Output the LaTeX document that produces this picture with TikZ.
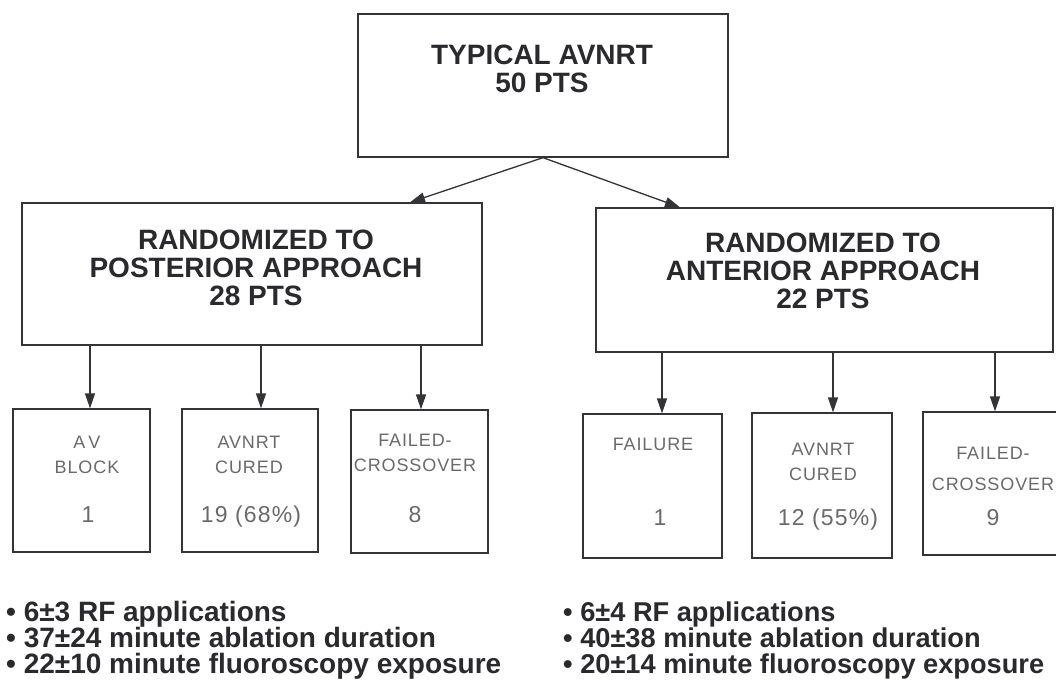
\documentclass[tikz,border=0pt]{standalone}
\usepackage{fontspec}
\setmainfont{Liberation Sans}
\newfontfamily\strokefont[LetterSpace=5]{Liberation Sans}
\usetikzlibrary{arrows.meta}
\definecolor{ink}{HTML}{2A2A2E}
\definecolor{linec}{HTML}{333338}
\definecolor{thin}{HTML}{6A6A6A}
\tikzset{
  box/.style={draw=linec, line width=1.3pt, inner sep=0pt, fill=none},
  hdr/.style={font=\bfseries\fontsize{28}{28}\selectfont, text=ink, align=center, inner sep=0pt},
  small/.style={font=\strokefont\fontsize{18}{25}\selectfont, text=thin, align=center, inner sep=0pt},
  num/.style={font=\strokefont\fontsize{23}{23}\selectfont, text=thin, inner sep=0pt},
  bul/.style={font=\bfseries\fontsize{28}{28}\selectfont, text=ink, inner sep=0pt, anchor=base west},
  bulr/.style={bul, font=\bfseries\fontsize{27.2}{27.2}\selectfont},
  arr/.style={draw=linec, line width=1.3pt, -{Triangle[length=15pt,width=10pt]}}
}
\begin{document}
\begin{tikzpicture}[x=1pt,y=-1pt]
\useasboundingbox[fill=white] (0,0) rectangle (1056,689);
\clip (0,0) rectangle (1056,689);
% top box
\node[box, minimum width=370pt, minimum height=143pt] (top) at (543,85.5) {};
\node[hdr, anchor=north] (toptxt) at (542,45) {TYPICAL AVNRT\\50 PTS};
% middle boxes
\node[box, minimum width=460pt, minimum height=142pt] (lmid) at (252,274) {};
\node[hdr, anchor=north] (lmidtxt) at (256,230) {RANDOMIZED TO\\POSTERIOR APPROACH\\28 PTS};
\node[box, minimum width=457pt, minimum height=144pt] (rmid) at (824.5,280) {};
\node[hdr, anchor=north] (rmidtxt) at (823,233) {RANDOMIZED TO\\ANTERIOR APPROACH\\22 PTS};
% small boxes left
\node[box, minimum width=137pt, minimum height=143pt] (b1) at (81.5,480.5) {};
\node[box, minimum width=136pt, minimum height=143pt] (b2) at (250,480.5) {};
\node[box, minimum width=137pt, minimum height=143pt] (b3) at (419.5,481.5) {};
% small boxes right
\node[box, minimum width=139pt, minimum height=144pt] (b4) at (652.5,486) {};
\node[box, minimum width=140pt, minimum height=145pt] (b5) at (822,485.5) {};
\node[box, minimum width=140pt, minimum height=143pt] (b6) at (993,483.5) {};
% small box texts
\node[small, anchor=north] (t1) at (87,436) {A\,V\\BLOCK};
\node[num, anchor=base] (n1) at (88,522) {1};
\node[small, anchor=north] (t2) at (249,436) {AVNRT\\CURED};
\node[num, anchor=base] (n2) at (251,522) {19 (68\%)};
\node[small, anchor=north] (t3) at (415,434) {FAILED-\\CROSSOVER};
\node[num, anchor=base] (n3) at (415,522) {8};
\node[small, anchor=north] (t4) at (653,438) {FAILURE};
\node[num, anchor=base] (n4) at (660,525) {1};
\node[small, anchor=north] (t5) at (823,443) {AVNRT\\CURED};
\node[num, anchor=base] (n5) at (828,525) {12 (55\%)};
\node[small, anchor=north, font=\strokefont\fontsize{18}{31}\selectfont] (t6) at (993,447) {FAILED-\\CROSSOVER};
\node[num, anchor=base] (n6) at (993,525) {9};
% arrow x positions
\coordinate (xl) at (410,0);
\coordinate (xr) at (680,0);
\coordinate (x1) at (90,0);
\coordinate (x2) at (261,0);
\coordinate (x3) at (421,0);
\coordinate (x4) at (662,0);
\coordinate (x5) at (833,0);
\coordinate (x6) at (995,0);
\draw[arr] (top.south) -- (lmid.north -| xl);
\draw[arr] (top.south) -- (rmid.north -| xr);
\draw[arr] (lmid.south -| x1) -- (b1.north -| x1);
\draw[arr] (lmid.south -| x2) -- (b2.north -| x2);
\draw[arr] (lmid.south -| x3) -- (b3.north -| x3);
\draw[arr] (rmid.south -| x4) -- (b4.north -| x4);
\draw[arr] (rmid.south -| x5) -- (b5.north -| x5);
\draw[arr] (rmid.south -| x6) -- (b6.north -| x6);
% bullet lists
\node[bul] (l1) at (6,621) {• 6±3 RF applications};
\node[bul] (l2) at (6,647) {• 37±24 minute ablation duration};
\node[bul] (l3) at (6,673) {• 22±10 minute fluoroscopy exposure};
\node[bulr] (r1) at (563,621) {• 6±4 RF applications};
\node[bulr] (r2) at (563,647) {• 40±38 minute ablation duration};
\node[bulr] (r3) at (563,673) {• 20±14 minute fluoroscopy exposure};
\end{tikzpicture}
\end{document}
